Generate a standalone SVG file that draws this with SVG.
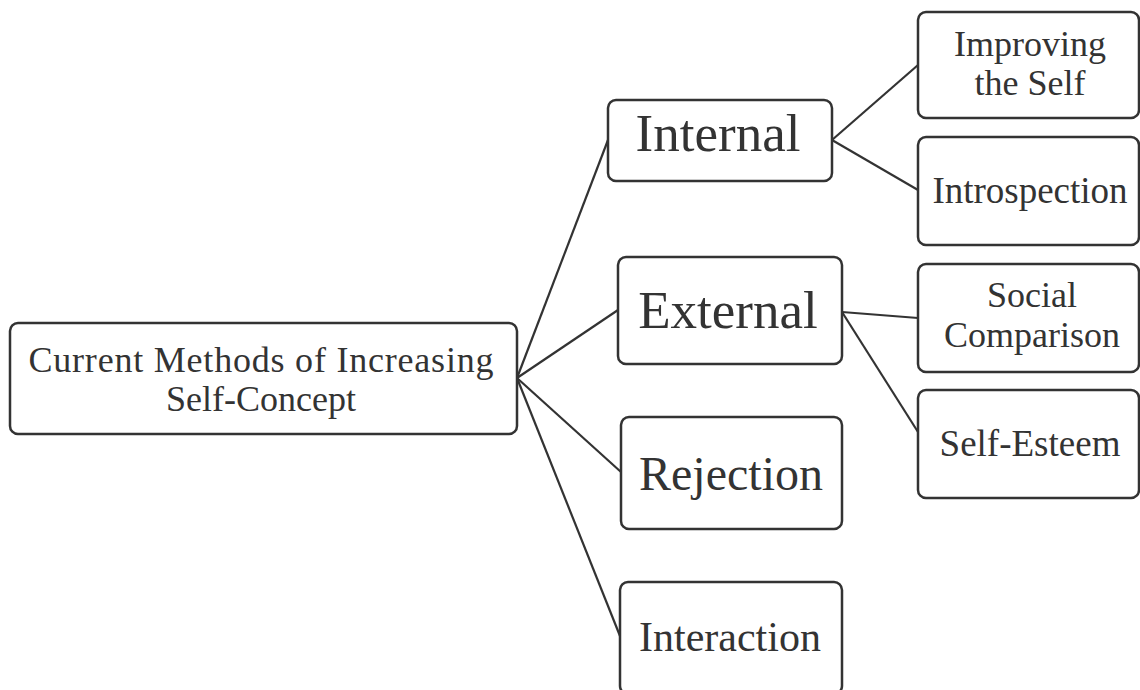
<svg xmlns="http://www.w3.org/2000/svg" width="1140" height="690" viewBox="0 0 1140 690">
<style>
.box{fill:#fff;stroke:#333;stroke-width:2.5}
.t{font-family:"Liberation Serif","Times New Roman",serif;fill:#333;text-anchor:middle}
.c line{stroke:#333;stroke-width:2.2}
</style>
<rect width="1140" height="690" fill="#fff"/>
<g class="c" id="connectors">
<line x1="517" y1="378" x2="608" y2="140"/>
<line x1="517" y1="378" x2="618" y2="310"/>
<line x1="517" y1="378" x2="621" y2="472"/>
<line x1="517" y1="378" x2="620" y2="636"/>
<line x1="832" y1="140" x2="918" y2="65"/>
<line x1="832" y1="140" x2="918" y2="190"/>
<line x1="842" y1="312" x2="918" y2="318"/>
<line x1="842" y1="312" x2="918" y2="432"/>
</g>
<g id="root"><rect class="box" x="10" y="323" width="507" height="111" rx="8"/>
<text class="t" x="261" y="372" font-size="36" textLength="465">Current Methods of Increasing</text>
<text class="t" x="261" y="411" font-size="36">Self-Concept</text></g>
<g id="internal"><rect class="box" x="608" y="100" width="224" height="81" rx="8"/>
<text class="t" x="718" y="151" font-size="53">Internal</text></g>
<g id="external"><rect class="box" x="618" y="257" width="224" height="107" rx="8"/>
<text class="t" x="728" y="328" font-size="53">External</text></g>
<g id="rejection"><rect class="box" x="621" y="417" width="221" height="112" rx="8"/>
<text class="t" x="731" y="490" font-size="48">Rejection</text></g>
<g id="interaction"><rect class="box" x="620" y="582" width="222" height="112" rx="8"/>
<text class="t" x="730" y="651" font-size="42">Interaction</text></g>
<g id="improving"><rect class="box" x="918" y="12" width="221" height="106" rx="8"/>
<text class="t" x="1030" y="56" font-size="36">Improving</text>
<text class="t" x="1030" y="95" font-size="36">the Self</text></g>
<g id="introspection"><rect class="box" x="918" y="137" width="221" height="108" rx="8"/>
<text class="t" x="1030" y="203" font-size="37">Introspection</text></g>
<g id="social"><rect class="box" x="918" y="264" width="221" height="108" rx="8"/>
<text class="t" x="1032" y="307" font-size="36">Social</text>
<text class="t" x="1032" y="347" font-size="36">Comparison</text></g>
<g id="selfesteem"><rect class="box" x="918" y="390" width="221" height="108" rx="8"/>
<text class="t" x="1030" y="456" font-size="37">Self-Esteem</text></g>
</svg>
